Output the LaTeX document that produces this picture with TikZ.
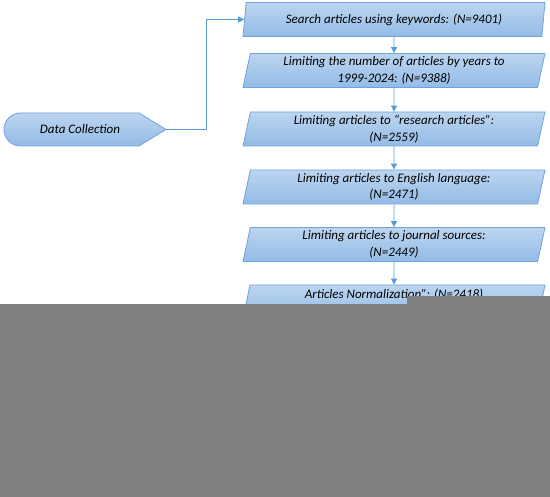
\documentclass[tikz,border=0pt]{standalone}
\usepackage{fontspec}
\setmainfont{Carlito}
\usetikzlibrary{shapes.geometric,arrows.meta}
\definecolor{boxline}{HTML}{6FA3DC}
\definecolor{boxtop}{HTML}{BCD5F0}
\definecolor{boxbot}{HTML}{93BBE6}
\definecolor{arrowc}{HTML}{5B9BD5}
\definecolor{occl}{HTML}{808080}
\tikzset{
  stepbox/.style={trapezium, trapezium left angle=75, trapezium right angle=105,
    trapezium stretches body, minimum width=302pt, minimum height=34pt,
    draw=boxline, line width=0.8pt, top color=boxtop, bottom color=boxbot,
    inner xsep=2pt, inner ysep=0pt,
    align=center, font=\itshape\fontsize{13}{16.5}\selectfont, text=black},
  dcshape/.style={top color=boxtop, bottom color=boxbot, draw=boxline, line width=0.8pt},
  flow/.style={draw=arrowc, line width=0.9pt, -{Triangle[length=6pt,width=6pt]}},
}
\begin{document}
\begin{tikzpicture}[x=1pt,y=-1pt]
\useasboundingbox (0,0) rectangle (550,497);
\node[stepbox] (b1) at (394,19.5) {Search articles using keywords: (N=9401)};
\node[stepbox] (b2) at (394,70.5) {Limiting the number of articles by years to\\1999-2024: (N=9388)};
\node[stepbox] (b3) at (394,129) {Limiting articles to ``research articles'':\\(N=2559)};
\node[stepbox] (b4) at (394,187) {Limiting articles to English language:\\(N=2471)};
\node[stepbox] (b5) at (394,244.5) {Limiting articles to journal sources:\\(N=2449)};
\node[stepbox] (b6) at (394,302) {Articles Normalization'': (N=2418)\\ };
% Data collection shape
\coordinate (dctip) at (166,129.5);
\draw[dcshape] (139,113) -- (dctip) -- (139,146) -- (20.5,146) arc[start angle=90,end angle=270,radius=16.5] -- cycle;
\node[font=\itshape\fontsize{13}{15}\selectfont, text=black] (dc) at (80,129.5) {Data Collection};
% connectors
\draw[flow] (dctip) -- (206,129.5) |- (b1.west);
\draw[flow] (b1) -- (b2);
\draw[flow] (b2) -- (b3);
\draw[flow] (b3) -- (b4);
\draw[flow] (b4) -- (b5);
\draw[flow] (b5) -- (b6);
% occlusion
\fill[occl] (0,304) rectangle (550,497);
\fill[occl] (407,296) rectangle (550,304);
\end{tikzpicture}
\end{document}
